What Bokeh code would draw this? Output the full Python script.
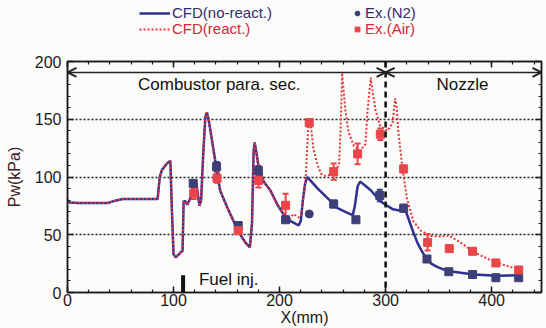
from bokeh.plotting import figure
from bokeh.layouts import column
from bokeh.models import (ColumnDataSource, LinearAxis, SingleIntervalTicker, Span, Arrow,
                          OpenHead, Label, Legend, LegendItem, Whisker, TeeHead, Range1d)
from bokeh.embed import file_html
from bokeh.resources import INLINE

# ---------------- data ----------------
# CFD without reaction (N2)
cfd_n2_x = [0, 2, 10, 38, 45, 52, 85, 87, 89, 94, 97, 98.5, 100, 102, 105, 107, 108.5, 109.5, 111,
            113, 116, 119, 121, 122.5, 124.5, 126, 128, 130, 131.5, 133, 135, 140, 144, 151, 158,
            163, 168, 172, 174, 175.5, 176.5, 178, 180, 185, 191.5, 198, 205.6, 210, 214, 218, 220,
            222, 224, 226, 229, 236, 245, 254.7, 264, 269, 271, 273.6, 276, 280, 286, 295, 300,
            307, 313, 317, 320, 325, 330, 334, 338, 343, 349, 356, 364, 383, 405, 425]
cfd_n2_p = [80, 78, 77.5, 77.5, 79.5, 81, 81, 100, 106, 112, 114, 70, 33, 30.5, 33, 35, 36, 79, 79,
            76, 82, 93, 97, 88, 75, 80, 120, 152, 156, 150, 139, 110, 88, 73, 59,
            50, 43, 39, 60, 122, 130, 122, 110, 96, 88, 76, 65, 62, 60, 58, 62,
            80, 94, 100, 97, 90, 82, 73, 69, 67, 75, 92, 96, 93, 88.5, 79, 76,
            72, 71, 75, 68, 55, 43, 36, 30, 25, 22, 19.5, 18, 15.5, 14.5, 15]

# CFD with reaction (Air)
cfd_air_x = [0, 2, 10, 38, 45, 52, 85, 87, 89, 94, 97, 98.5, 100, 102, 105, 107, 108.5, 109.5, 111,
             113, 116, 119, 121, 122.5, 124.5, 126, 128, 130, 131.5, 133, 135, 140, 144, 151, 158,
             163, 168, 172, 174, 175.5, 176.5, 178, 180, 185, 191.5, 198, 205.6, 210, 213, 218, 220,
             222, 224.5, 227, 229, 232, 236, 239, 243, 247, 251, 256, 257.5, 259, 262, 265, 270,
             276, 281, 283, 286, 288, 290.5, 295, 302, 306.6, 309, 310.5, 312, 316, 320, 326, 333,
             342.5, 352, 359.5, 371, 383, 399, 411, 425]
cfd_air_p = [80, 78, 77.5, 77.5, 79.5, 81, 81, 100, 106, 112, 114, 70, 33, 30.5, 33, 35, 36, 79, 79,
             76, 82, 93, 97, 88, 75, 80, 120, 152, 156, 150, 139, 110, 88, 73, 59,
             50, 43, 39, 60, 122, 130, 122, 110, 96, 88, 76, 66, 64, 68, 65, 66,
             80, 96, 144, 148, 124, 110, 103, 101, 102, 104.6, 110, 140, 190, 158, 139, 127,
             123, 128.5, 158, 186, 172, 158, 144, 140, 147, 168, 160, 139, 107, 82, 62, 53.6,
             49, 48.5, 49.4, 43, 35, 28, 24, 20]

# Experiment N2
exp_n2_x = [118.5, 140.6, 161, 180, 205.7, 228, 251, 272, 294.5, 317, 339, 359.6, 382, 404, 425.5]
exp_n2_p = [94.5, 109, 58, 105.5, 63, 68, 76.6, 63, 84, 73, 29, 18, 15.6, 12.8, 12.8]
exp_n2_err = [3, 4, 2, 4, 2, 0, 3, 2, 5, 3, 2, 1, 1, 1, 1]
exp_n2_marker = ["square"] * 5 + ["circle"] + ["square"] * 9

# Experiment Air
exp_air_x = [119, 141, 161, 180, 205.7, 228, 251, 273.6, 295, 317, 339.6, 360, 382, 404, 425.5]
exp_air_p = [86, 99, 53.6, 97, 75.5, 147, 104.6, 120, 137, 107, 43.4, 38, 35.7, 25.6, 19.5]
exp_air_err = [5, 4, 2, 6, 10, 3, 7, 9, 5, 3, 7, 0, 0, 0, 0]

x_ticks_interval = 100
y_ticks_interval = 50
SECTION_BOUNDARY = 300
FUEL_INJ_X = 109
FUEL_INJ_H = 15
X_MAX = 447

# ---------------- style ----------------
BLUE = "#2e3190"
RED = "#e8343c"
BLUE_M = "#3d3f78"
RED_M = "#e8464a"
NAVY_TXT = "#322d6e"
RED_TXT = "#cf2a3c"
FONT = "Liberation Sans"
BG = "#fbfbfa"
LEG_H = 44

# ---------------- legend strip ----------------
lf = figure(width=546, height=LEG_H, x_range=Range1d(0, 546), y_range=Range1d(0, LEG_H),
            output_backend="svg", toolbar_location=None, min_border=0,
            background_fill_color=BG, border_fill_color=BG)
lf.axis.visible = False
lf.grid.visible = False
lf.outline_line_color = None
# legend-only renderers, placed outside the visible range of the strip
OFF = [-100, -90]
l_n2 = lf.line(OFF, OFF, line_color=BLUE, line_width=2.5)
l_air = lf.line(OFF, OFF, line_color=RED, line_width=2, line_dash="2 2")
l_en2 = lf.scatter(OFF, OFF, marker="circle", size=6, fill_color=BLUE_M, line_color=BLUE_M)
l_eair = lf.scatter(OFF, OFF, marker="square", size=6, fill_color=RED_M, line_color=RED_M)

def add_legend(label, rend, color, loc, gw):
    lg = Legend(items=[LegendItem(label=label, renderers=[rend])], location=loc,
                label_text_font=FONT, label_text_font_size="15px", label_text_color=color,
                glyph_width=gw, glyph_height=16, label_height=16, label_standoff=2,
                padding=0, margin=0, spacing=0, border_line_alpha=0,
                background_fill_alpha=0)
    lf.add_layout(lg)

add_legend("CFD(no-react.)", l_n2, NAVY_TXT, (72, 23), 31)
add_legend("CFD(react.)", l_air, RED_TXT, (72, 7), 31)
add_legend("Ex.(N2)", l_en2, NAVY_TXT, (284, 23), 12)
add_legend("Ex.(Air)", l_eair, RED_TXT, (284, 7), 12)

# ---------------- main plot ----------------
p = figure(width=546, height=328 - LEG_H, x_range=Range1d(0, X_MAX), y_range=Range1d(0, 200),
           output_backend="svg", toolbar_location=None,
           min_border_left=67, min_border_right=5, min_border_top=61 - LEG_H,
           min_border_bottom=32,
           background_fill_color=BG, border_fill_color=BG)
p.outline_line_color = "#1a1a1a"
p.outline_line_width = 1.5

def style_axis(ax, show_labels):
    ax.major_tick_in = 6
    ax.major_tick_out = 0
    ax.minor_tick_in = 3
    ax.minor_tick_out = 0
    ax.axis_line_color = "#1a1a1a"
    ax.axis_line_width = 1.5
    ax.major_tick_line_color = "#1a1a1a"
    ax.major_tick_line_width = 1.5
    ax.minor_tick_line_color = "#1a1a1a"
    ax.minor_tick_line_width = 1.2
    ax.major_label_text_font = FONT
    ax.major_label_text_color = "#1a1a1a"
    ax.major_label_text_font_size = "16px"
    if not show_labels:
        ax.major_label_overrides = {i * 50: "" for i in range(0, 10)}
        ax.major_label_standoff = 0

p.xaxis.ticker = SingleIntervalTicker(interval=x_ticks_interval, num_minor_ticks=5)
p.yaxis.ticker = SingleIntervalTicker(interval=y_ticks_interval, num_minor_ticks=5)
style_axis(p.xaxis[0], True)
style_axis(p.yaxis[0], True)
p.xaxis.major_label_standoff = 1
p.yaxis.major_label_standoff = 6
p.xaxis.axis_label = "X(mm)"
p.yaxis.axis_label = "Pw(kPa)"
for ax in (p.xaxis[0], p.yaxis[0]):
    ax.axis_label_text_font = FONT
    ax.axis_label_text_font_size = "16px"
    ax.axis_label_text_font_style = "normal"
p.xaxis.axis_label_standoff = 0
p.yaxis.axis_label_standoff = 9
p.xaxis.axis_label_text_color = "#1a1a1a"
p.yaxis.axis_label_text_color = "#3a2028"

top_ax = LinearAxis(ticker=SingleIntervalTicker(interval=x_ticks_interval, num_minor_ticks=5))
style_axis(top_ax, False)
p.add_layout(top_ax, "above")
right_ax = LinearAxis(ticker=SingleIntervalTicker(interval=y_ticks_interval, num_minor_ticks=5))
style_axis(right_ax, False)
p.add_layout(right_ax, "right")

p.xgrid.visible = False
p.ygrid.ticker = SingleIntervalTicker(interval=y_ticks_interval)
p.ygrid.grid_line_color = "#222222"
p.ygrid.grid_line_dash = "2 2"
p.ygrid.grid_line_width = 1.5

# section boundary
p.add_layout(Span(location=SECTION_BOUNDARY, dimension="height", line_color="#111111",
                  line_width=2.5, line_dash="6 4"))

# curves
p.line(cfd_n2_x, cfd_n2_p, line_color=BLUE, line_width=2.5)
p.line(cfd_air_x, cfd_air_p, line_color=RED, line_width=2, line_dash="2 2")

# experiments with error bars
src_n2 = ColumnDataSource(dict(x=exp_n2_x, y=exp_n2_p,
                               lo=[a - b for a, b in zip(exp_n2_p, exp_n2_err)],
                               hi=[a + b for a, b in zip(exp_n2_p, exp_n2_err)],
                               m=exp_n2_marker))
src_air = ColumnDataSource(dict(x=exp_air_x, y=exp_air_p,
                                lo=[a - b for a, b in zip(exp_air_p, exp_air_err)],
                                hi=[a + b for a, b in zip(exp_air_p, exp_air_err)]))
p.add_layout(Whisker(source=src_n2, base="x", upper="hi", lower="lo", line_color=BLUE_M,
                     line_width=2,
                     upper_head=TeeHead(size=6, line_color=BLUE_M, line_width=2),
                     lower_head=TeeHead(size=6, line_color=BLUE_M, line_width=2)))
p.add_layout(Whisker(source=src_air, base="x", upper="hi", lower="lo", line_color=RED_M,
                     line_width=2,
                     upper_head=TeeHead(size=6, line_color=RED_M, line_width=2),
                     lower_head=TeeHead(size=6, line_color=RED_M, line_width=2)))
p.scatter("x", "y", source=src_n2, marker="m", size=8, fill_color=BLUE_M, line_color=BLUE_M)
p.scatter("x", "y", source=src_air, marker="square", size=8, fill_color=RED_M, line_color=RED_M)

# annotations
ARROW_Y = 190.5
for xs, xe in [(0, SECTION_BOUNDARY), (SECTION_BOUNDARY, X_MAX)]:
    p.add_layout(Arrow(start=OpenHead(size=9, line_width=2, line_color="#222222"),
                       end=OpenHead(size=9, line_width=2, line_color="#222222"),
                       x_start=xs, y_start=ARROW_Y, x_end=xe, y_end=ARROW_Y,
                       line_color="#222222", line_width=1.5))
for txt, xx, yy in [("Combustor para. sec.", 66.5, 180), ("Nozzle", 348, 180),
                    ("Fuel inj.", 124, 11)]:
    p.add_layout(Label(x=xx, y=yy, text=txt, text_font=FONT, text_font_size="17px",
                       text_color="#111111", text_baseline="middle", text_align="left"))
p.segment([FUEL_INJ_X], [0], [FUEL_INJ_X], [FUEL_INJ_H], line_color="#111111", line_width=4)

layout = column(lf, p, spacing=0)
open("out.html", "w").write(file_html(layout, INLINE))
